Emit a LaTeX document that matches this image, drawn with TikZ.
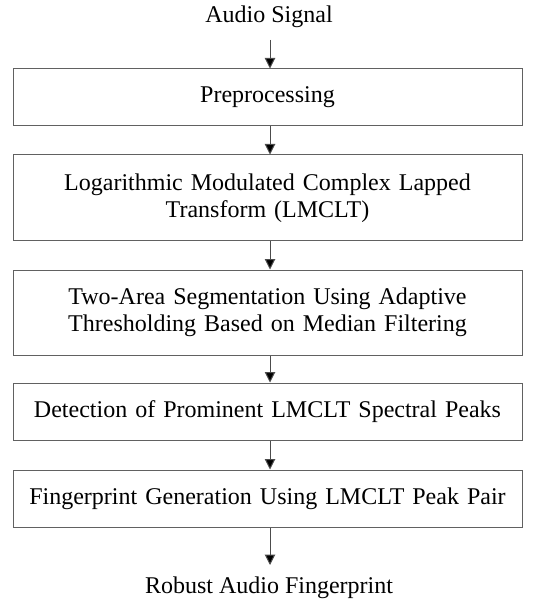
\documentclass[tikz,border=0pt]{standalone}
\usepackage{fontspec}
\setmainfont{Liberation Serif}
\usetikzlibrary{arrows.meta}
\begin{document}
\begin{tikzpicture}[x=1pt,y=-1pt,
  font=\fontsize{24}{27}\selectfont,
  stage/.style={draw=black!62, line width=1pt, rectangle, minimum width=509pt,
    inner sep=0pt, align=center, text width=505pt},
  label/.style={inner sep=0pt},
  flow/.style={draw=black!70, line width=1pt, -{Triangle[width=10.5pt,length=10.5pt,fill=black]}}]
  \useasboundingbox (0,0) rectangle (535,601);
  \node[label] (in) at (269,17) {Audio Signal};
  \node[stage, minimum height=57pt] (pre) at (267.5,97.5) {Preprocessing};
  \node[stage, minimum height=86pt] (lm) at (267.5,198) {Logarithmic Modulated Complex Lapped\\Transform (LMCLT)};
  \node[stage, minimum height=85pt] (seg) at (267.5,312.5) {Two-Area Segmentation Using Adaptive\\Thresholding Based on Median Filtering};
  \node[stage, minimum height=57pt] (det) at (267.5,411.5) {Detection of Prominent LMCLT Spectral Peaks};
  \node[stage, minimum height=57pt] (fp) at (267.5,498.5) {Fingerprint Generation Using LMCLT Peak Pair};
  \node[label] (out) at (269,588) {Robust Audio Fingerprint};
  \coordinate (inb) at (270,40);
  \coordinate (outt) at (270,565);
  \draw[flow] (inb) -- (inb |- pre.north);
  \draw[flow] (pre.south -| inb) -- (lm.north -| inb);
  \draw[flow] (lm.south -| inb) -- (seg.north -| inb);
  \draw[flow] (seg.south -| inb) -- (det.north -| inb);
  \draw[flow] (det.south -| inb) -- (fp.north -| inb);
  \draw[flow] (fp.south -| inb) -- (outt);
\end{tikzpicture}
\end{document}
